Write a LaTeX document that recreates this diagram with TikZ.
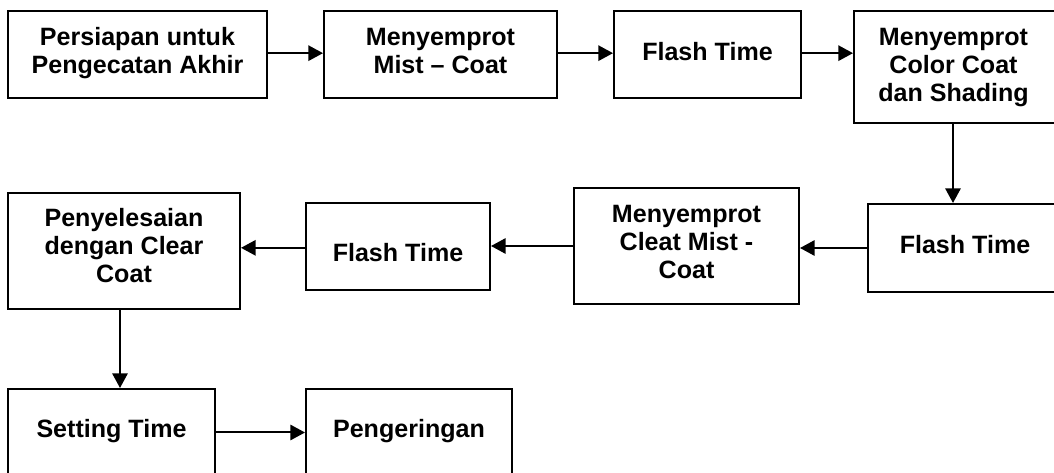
\documentclass[tikz,border=0pt]{standalone}
\usepackage{fontspec}
\setmainfont{Liberation Sans}
\usetikzlibrary{arrows.meta}
\tikzset{
  box/.style={draw=black, line width=1.5pt, inner sep=0pt, rectangle},
  lbl/.style={anchor=north, inner sep=0pt, align=center, font=\fontsize{18.8}{21}\selectfont\bfseries},
  arr/.style={line width=1.5pt, -{Triangle[length=11pt,width=11.5pt]}}
}
\begin{document}
\begin{tikzpicture}[x=0.75pt,y=-0.75pt]
\useasboundingbox (0,0) rectangle (1054,473);
\clip (0,0) rectangle (1054,473);
\node[box, minimum width=194.25pt, minimum height=65.25pt] (b1) at (137.5,54.5) {};
\node[box, minimum width=174.75pt, minimum height=65.25pt] (b2) at (440.5,54.5) {};
\node[box, minimum width=140.25pt, minimum height=65.25pt] (b3) at (707.5,54.5) {};
\node[box, minimum width=151.5pt, minimum height=84pt] (b4) at (955,67) {};
\node[box, minimum width=145.5pt, minimum height=66pt] (b5) at (965,248) {};
\node[box, minimum width=168.75pt, minimum height=87pt] (b6) at (686.5,246) {};
\node[box, minimum width=138pt, minimum height=65.25pt] (b7) at (398,246.5) {};
\node[box, minimum width=174pt, minimum height=87pt] (b8) at (124,251) {};
\node[box, minimum width=155.25pt, minimum height=65.25pt] (b9) at (111.5,432.5) {};
\node[box, minimum width=154.5pt, minimum height=65.25pt] (b10) at (409,432.5) {};

\node[lbl] (t1) at (137.5,25.4) {\strut Persiapan untuk\\Pengecatan Akhir};
\node[lbl] (t2) at (440.5,25.4) {\strut Menyemprot\\Mist – Coat};
\node[lbl] (t3) at (707.5,40.4) {\strut Flash Time};
\node[lbl] (t4) at (953.5,25.4) {\strut Menyemprot\\Color Coat\\dan Shading};
\node[lbl] (t5) at (965,233.4) {\strut Flash Time};
\node[lbl] (t6) at (686.5,202.4) {\strut Menyemprot\\Cleat Mist -\\Coat};
\node[lbl] (t7) at (398,241.4) {\strut Flash Time};
\node[lbl] (t8) at (124,206.4) {\strut Penyelesaian\\dengan Clear\\Coat};
\node[lbl] (t9) at (111.5,417.4) {\strut Setting Time};
\node[lbl] (t10) at (409,417.4) {\strut Pengeringan};

\draw[arr] ([yshift=1pt]b1.east) -- ([yshift=1pt]b2.west);
\draw[arr] ([yshift=1pt]b2.east) -- ([yshift=1pt]b3.west);
\draw[arr] ([yshift=1pt]b3.east) -- ([yshift=1pt]b3.east -| b4.west);
\draw[arr] ([xshift=-1.5pt]b4.south) -- ([xshift=-1.5pt]b4.south |- b5.north);
\draw[arr] (b5.west) -- (b5.west -| b6.east);
\draw[arr] (b6.west) -- (b6.west -| b7.east);
\draw[arr] ([yshift=-1pt]b7.west) -- ([yshift=-1pt]b7.west -| b8.east);
\draw[arr] ([xshift=-3pt]b8.south) -- ([xshift=-3pt]b8.south |- b9.north);
\draw[arr] (b9.east) -- (b10.west);
\end{tikzpicture}
\end{document}
